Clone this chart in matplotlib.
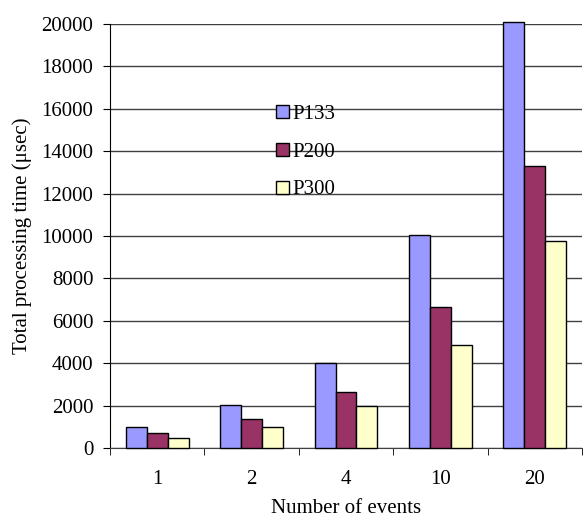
import matplotlib.pyplot as plt
import numpy as np

# number of events per run and total processing time (usec) per CPU
events = ['1', '2', '4', '10', '20']
p133 = [1000, 2050, 4000, 10050, 20080]
p200 = [690, 1370, 2640, 6650, 13300]
p300 = [460, 990, 1980, 4850, 9750]

series = [('P133', p133, '#9999FF'), ('P200', p200, '#993366'), ('P300', p300, '#FFFFCC')]

plt.rcParams['font.family'] = ['Liberation Serif', 'DejaVu Serif']
plt.rcParams['font.size'] = 15

fig = plt.figure(figsize=(5.83, 5.18), dpi=100)
ax = fig.add_axes([110 / 583, 1 - 448 / 518, 472 / 583, 424 / 518])

x = np.arange(len(events))
w = 0.222
for i, (name, vals, col) in enumerate(series):
    ax.bar(x + (i - 1) * w, vals, width=w, color=col, edgecolor='black',
           linewidth=1, label=name, zorder=3, clip_on=False)

ax.set_xlim(-0.5, len(events) - 0.5)
ax.set_ylim(0, 20000)
ax.set_yticks(np.arange(0, 20001, 2000))
ax.yaxis.grid(True, color='#404040', linewidth=1, zorder=0)
ax.set_axisbelow(True)

ax.set_xticks(x)
ax.set_xticklabels(events)
ax.set_xticks(np.arange(-0.5, len(events), 1), minor=True)
ax.tick_params(axis='x', which='major', length=0, pad=16)
ax.tick_params(axis='x', which='minor', length=5, direction='out')
ax.tick_params(axis='y', length=5, direction='out', pad=7)

for s in ['top', 'right']:
    ax.spines[s].set_visible(False)
ax.spines['left'].set_color('black')
ax.spines['bottom'].set_color('#404040')

ax.set_xlabel('Number of events', labelpad=7)
ax.set_ylabel('Total processing time (\u03bcsec)', labelpad=7)

fig.legend(loc='upper left', bbox_to_anchor=(276 / 583, 1 - 105 / 518),
           frameon=False, borderpad=0, borderaxespad=0, labelspacing=0.9,
           handlelength=0.6, handleheight=0.6, handletextpad=0.2)

fig.savefig('out.png', dpi=100)
